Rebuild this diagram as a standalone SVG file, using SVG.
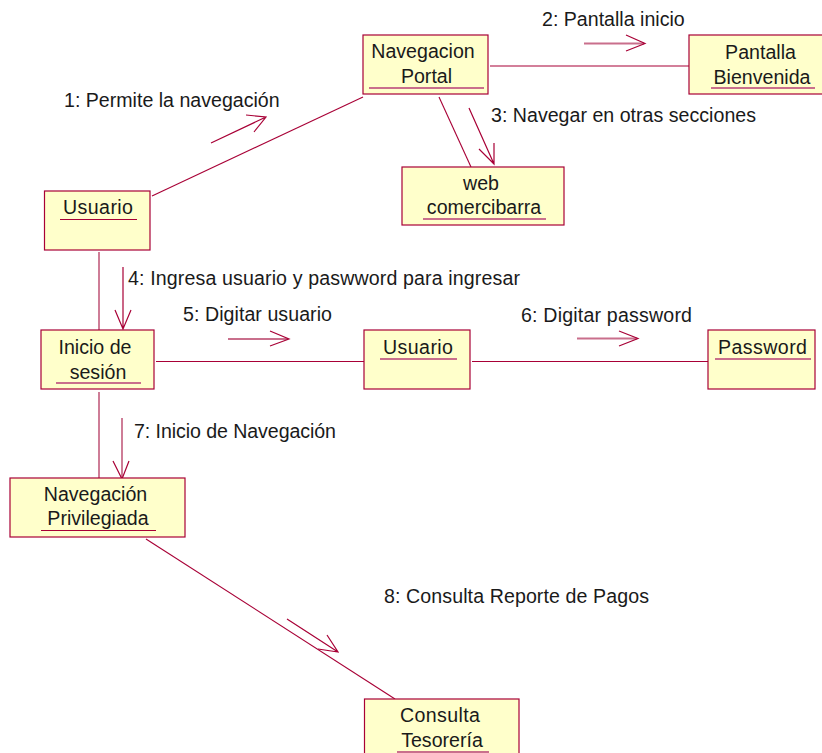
<svg xmlns="http://www.w3.org/2000/svg" width="822" height="753" viewBox="0 0 822 753">
<style>
text{font-family:"Liberation Sans",Arial,sans-serif;font-size:19.6px;fill:#1a1a1a}
.c{text-anchor:middle}
.n{fill:#ffffcb;stroke:#a80036;stroke-width:1.2}
.u{stroke:#a80036;stroke-width:1.1;fill:none}
.p{stroke:#c96f8c;stroke-width:1.8;fill:none}
.l{stroke:#a80036;stroke-width:1.1;fill:none}
.a{stroke:#a80036;stroke-width:1.2;fill:none}
</style>
<rect width="822" height="753" fill="#fff"/>
<g id="connectors">
<path class="l" d="M152 196L363 97"/>
<path class="l" d="M490 66H689"/>
<path class="l" d="M439 97L471 167"/>
<path class="p" d="M99 252V330"/>
<path class="l" d="M156 361.500H364"/>
<path class="l" d="M472 361.500H708"/>
<path class="p" d="M99 392V478"/>
<path class="l" d="M146 539L395 699"/>
<path class="a" d="M211 143L266 117M246 115L266 117L254 132"/>
<path class="p" d="M584 43.500H644"/><path class="a" d="M626 35L645 43.500L626 51"/>
<path class="a" d="M469 108L494 164M479 149L494 164L494 143"/>
<path class="a" d="M123 267V329M115 310L123 329L131 310"/>
<path class="p" d="M228 339H288"/><path class="a" d="M270 331L289 339L270 346"/>
<path class="p" d="M577 338.500H637"/><path class="a" d="M619 331L638 338.500L619 346"/>
<path class="p" d="M122 418V478"/><path class="a" d="M113 461L122 479L129 461"/>
<path class="a" d="M287 619L338 652M327 635L338 652L318 649"/>
</g>
<g id="navegacion-portal"><rect class="n" x="363" y="35" width="125" height="59"/><text class="c" x="423" y="58">Navegacion</text><text class="c" x="426.500" y="83">Portal</text><path class="p" d="M369 88H484"/></g>
<g id="pantalla-bienvenida"><rect class="n" x="689" y="35" width="140" height="59"/><text class="c" x="760.500" y="59">Pantalla</text><text class="c" x="762" y="84">Bienvenida</text><path class="p" d="M711 88H815"/></g>
<g id="web-comercibarra"><rect class="n" x="402" y="167" width="162" height="58"/><text class="c" x="481" y="190">web</text><text class="c" x="484" y="214">comercibarra</text><path class="p" d="M423 219H546"/></g>
<g id="usuario-actor"><rect class="n" x="44.500" y="191" width="105.500" height="59"/><text class="c" x="98" y="214" textLength="70">Usuario</text><path class="u" d="M60 219.500H137"/></g>
<g id="inicio-sesion"><rect class="n" x="41" y="330" width="113" height="59"/><text class="c" x="95" y="354">Inicio de</text><text class="c" x="98" y="379">sesión</text><path class="p" d="M56 383H141"/></g>
<g id="usuario"><rect class="n" x="364" y="330" width="106" height="59"/><text class="c" x="418" y="354" textLength="70">Usuario</text><path class="p" d="M380 359H457"/></g>
<g id="password"><rect class="n" x="708" y="330" width="107" height="59"/><text class="c" x="762.500" y="354" textLength="89">Password</text><path class="p" d="M715 359H811"/></g>
<g id="navegacion-privilegiada"><rect class="n" x="10" y="478" width="175" height="59"/><text class="c" x="95.500" y="501">Navegación</text><text class="c" x="98" y="525">Privilegiada</text><path class="u" d="M41 530.500H156"/></g>
<g id="consulta-tesoreria"><rect class="n" x="364.500" y="699" width="154.500" height="60"/><text class="c" x="440" y="722" textLength="80">Consulta</text><text class="c" x="442" y="747">Tesorería</text><path class="p" d="M397 752H489"/></g>
<g id="labels">
<text x="64" y="107">1: Permite la navegación</text>
<text x="542" y="26">2: Pantalla inicio</text>
<text x="491" y="122" textLength="265">3: Navegar en otras secciones</text>
<text x="128" y="285" textLength="392">4: Ingresa usuario y paswword para ingresar</text>
<text x="183" y="321" textLength="149">5: Digitar usuario</text>
<text x="521" y="322" textLength="171">6: Digitar password</text>
<text x="134" y="438" textLength="202">7: Inicio de Navegación</text>
<text x="384" y="603" textLength="265">8: Consulta Reporte de Pagos</text>
</g>
</svg>
